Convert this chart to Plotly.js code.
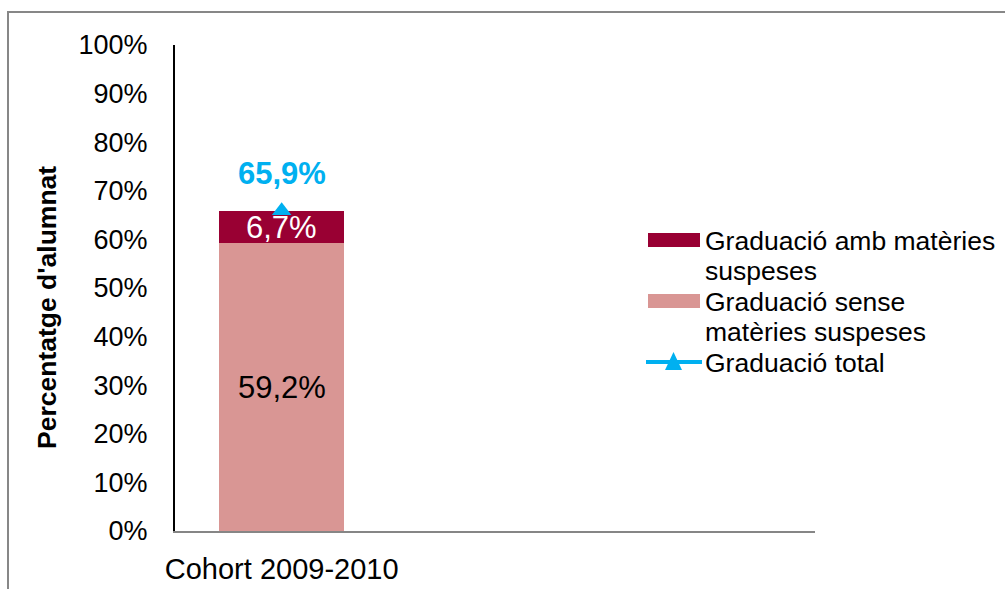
<!DOCTYPE html>
<html>
<head>
<meta charset="utf-8">
<script src="https://cdn.plot.ly/plotly-3.0.1.min.js"></script>
<style>
  html, body { margin: 0; padding: 0; background: #fff; width: 1005px; height: 589px; overflow: hidden; }
  #frame { position: absolute; left: 7px; top: 11px; width: 1100px; height: 700px; border: 2px solid #878787; }
  #chart { position: absolute; left: 0; top: 0; width: 1005px; height: 589px; }
</style>
</head>
<body>
<div id="frame"></div>
<div id="chart"></div>
<script>
// ---- data ----
const categories = ["Cohort 2009-2010"];
const senseValues = [59.2];   // Graduació sense matèries suspeses
const ambValues = [6.7];      // Graduació amb matèries suspeses
const totalValues = [65.9];   // Graduació total
const seriesNames = ["Graduació amb matèries<br>suspeses", "Graduació sense<br>matèries suspeses", "Graduació total"];
const yTickVals = [0, 10, 20, 30, 40, 50, 60, 70, 80, 90, 100];
const yTickLabels = ["0%", "10%", "20%", "30%", "40%", "50%", "60%", "70%", "80%", "90%", "100%"];
const yTitle = "Percentatge d'alumnat";

// ---- style ----
const colAmb = "#990033";
const colSense = "#D99694";
const colTotal = "#00B0F0";
const FONT = "Liberation Sans, Arial, sans-serif";

const xIdx = categories.map((c, i) => i);
const fmt = v => v.toFixed(1).replace(".", ",") + "%";

// plot area in pixels
const L = 175, R = 815, T = 45, B = 531, W = 1005, H = 589;
const px = X => (X - L) / (R - L);
const py = Y => (B - Y) / (B - T);

const traces = [
  { type: "bar", x: xIdx, y: senseValues, marker: { color: colSense }, width: 0.586,
    showlegend: false, hoverinfo: "skip" },
  { type: "bar", x: xIdx, y: ambValues, marker: { color: colAmb }, width: 0.586,
    showlegend: false, hoverinfo: "skip" },
  { type: "scatter", mode: "lines+markers", x: xIdx, y: totalValues,
    line: { color: colTotal, width: 3 },
    marker: { symbol: "triangle-up", size: 17, color: colTotal },
    showlegend: false, hoverinfo: "skip" }
];

const annotations = [];
xIdx.forEach(i => {
  annotations.push({ x: i, y: senseValues[i] / 2, xref: "x", yref: "y", text: fmt(senseValues[i]),
    showarrow: false, font: { family: FONT, size: 31, color: "#000" } });
  annotations.push({ x: i, y: senseValues[i] + ambValues[i] / 2, xref: "x", yref: "y", text: fmt(ambValues[i]),
    showarrow: false, font: { family: FONT, size: 31, color: "#fff" } });
  annotations.push({ x: i, y: totalValues[i], xref: "x", yref: "y", text: "<b>" + fmt(totalValues[i]) + "</b>",
    showarrow: false, yshift: 37, font: { family: FONT, size: 31, color: colTotal } });
});

// y axis title (placed like the original, slightly below the plot centre)
annotations.push({ xref: "paper", yref: "paper", x: px(47), y: py(308), text: "<b>" + yTitle + "</b>",
  textangle: -90, showarrow: false, xanchor: "center", yanchor: "middle",
  font: { family: FONT, size: 26.5, color: "#000" } });

// manual legend
const shapes = [];
const legendItems = [
  { name: seriesNames[0], kind: "rect", color: colAmb, y: 240 },
  { name: seriesNames[1], kind: "rect", color: colSense, y: 301 },
  { name: seriesNames[2], kind: "line", color: colTotal, y: 362 }
];
legendItems.forEach(it => {
  if (it.kind === "rect") {
    shapes.push({ type: "rect", xref: "paper", yref: "paper", x0: px(648), x1: px(700),
      y0: py(it.y + 7), y1: py(it.y - 7), fillcolor: it.color, line: { width: 0 } });
  } else {
    shapes.push({ type: "line", xref: "paper", yref: "paper", x0: px(646), x1: px(702),
      y0: py(it.y), y1: py(it.y), line: { color: it.color, width: 4 } });
    shapes.push({ type: "path", xref: "paper", yref: "paper",
      path: `M ${px(665)} ${py(it.y + 8)} L ${px(682)} ${py(it.y + 8)} L ${px(673.5)} ${py(it.y - 10)} Z`,
      fillcolor: it.color, line: { width: 0 } });
  }
  it.name.split("<br>").forEach((line, k) => {
    annotations.push({ xref: "paper", yref: "paper", x: px(703), y: py(it.y + 1 + 30 * k),
      xanchor: "left", yanchor: "middle", text: line, showarrow: false,
      font: { family: FONT, size: 26.5, color: "#000" } });
  });
});

const layout = {
  width: W, height: H,
  margin: { l: L, r: W - R, t: T, b: H - B, pad: 0 },
  paper_bgcolor: "rgba(0,0,0,0)",
  plot_bgcolor: "rgba(0,0,0,0)",
  barmode: "stack",
  showlegend: false,
  font: { family: FONT, color: "#000" },
  xaxis: {
    range: [-0.5, 2.5], tickmode: "array", tickvals: xIdx, ticktext: categories,
    showline: true, linecolor: "#868686", linewidth: 2,
    showgrid: false, zeroline: false, ticks: "",
    tickfont: { family: FONT, size: 29, color: "#000" },
    ticklabelstandoff: 11, fixedrange: true
  },
  yaxis: {
    range: [0, 100], tickmode: "array", tickvals: yTickVals, ticktext: yTickLabels,
    showline: true, linecolor: "#000", linewidth: 2,
    showgrid: false, zeroline: false, ticks: "",
    tickfont: { family: FONT, size: 27, color: "#000" },
    ticklabelstandoff: 20,
    fixedrange: true
  },
  shapes: shapes,
  annotations: annotations
};

Plotly.newPlot("chart", traces, layout, { displayModeBar: false, staticPlot: true });
</script>
</body>
</html>
